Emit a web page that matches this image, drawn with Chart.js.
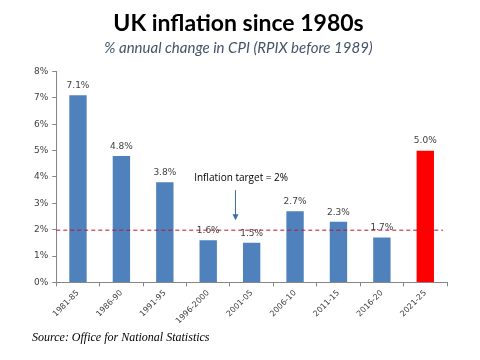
<!DOCTYPE html>
<html><head><meta charset="utf-8">
<script src="https://cdn.jsdelivr.net/npm/chart.js@4/dist/chart.umd.min.js"></script>
<style>html,body{margin:0;padding:0;background:#fff}#wrap{width:480px;height:360px;position:relative}</style>
</head><body><div id="wrap"><canvas id="c" width="480" height="360"></canvas></div>
<script>
const categories = ['1981-85','1986-90','1991-95','1996-2000','2001-05','2006-10','2011-15','2016-20','2021-25'];
const inflation = [7.1, 4.8, 3.8, 1.6, 1.5, 2.7, 2.3, 1.7, 5.0];
const valueLabels = ['7.1%','4.8%','3.8%','1.6%','1.5%','2.7%','2.3%','1.7%','5.0%'];
const targetRate = 2;
const yTicks = [0,1,2,3,4,5,6,7,8];
const titleText = 'UK inflation since 1980s';
const subtitleText = '% annual change in CPI (RPIX before 1989)';
const targetLabel = 'Inflation target = 2%';
const sourceText = 'Source: Office for National Statistics';

const barColors = categories.map((c,i)=> i===categories.length-1 ? '#FF0000' : '#4F81BD');

const overlay = {
  id:'overlay',
  afterDatasetsDraw(chart){
    const ctx = chart.ctx, ca = chart.chartArea;
    const x = chart.scales.x, y = chart.scales.y;
    const meta = chart.getDatasetMeta(0);
    ctx.save();
    ctx.font = '9px "DejaVu Sans"';
    ctx.fillStyle = '#404040';
    ctx.textAlign = 'center';
    ctx.textBaseline = 'bottom';
    meta.data.forEach((bar,i)=>{
      ctx.fillText(valueLabels[i], bar.x, bar.y - 5);
    });
    const ty = y.getPixelForValue(targetRate);
    ctx.strokeStyle = '#C0122A';
    ctx.lineWidth = 1;
    ctx.setLineDash([4,3]);
    ctx.beginPath();
    ctx.moveTo(ca.left, ty + 0.5);
    ctx.lineTo(ca.right - 4, ty + 0.5);
    ctx.stroke();
    ctx.setLineDash([]);
    const ax = x.getPixelForValue(3) + (x.getPixelForValue(4) - x.getPixelForValue(3)) * 0.62;
    ctx.fillStyle = '#000';
    ctx.font = '10px "Open Sans"';
    ctx.textAlign = 'center';
    ctx.textBaseline = 'middle';
    ctx.fillText(targetLabel, ax + 6, y.getPixelForValue(3.95));
    const a0 = y.getPixelForValue(3.5), a1 = y.getPixelForValue(2.4);
    ctx.strokeStyle = '#3A6EA5';
    ctx.fillStyle = '#3A6EA5';
    ctx.beginPath();
    ctx.moveTo(Math.round(ax) + 0.5, a0);
    ctx.lineTo(Math.round(ax) + 0.5, a1);
    ctx.stroke();
    ctx.beginPath();
    ctx.moveTo(Math.round(ax) - 2.5, a1 - 5);
    ctx.lineTo(Math.round(ax) + 3.5, a1 - 5);
    ctx.lineTo(Math.round(ax) + 0.5, a1 + 1);
    ctx.closePath();
    ctx.fill();
    ctx.font = 'italic 12px "Liberation Serif"';
    ctx.fillStyle = '#000';
    ctx.textAlign = 'left';
    ctx.textBaseline = 'middle';
    ctx.fillText(sourceText, 32, 338);
    ctx.restore();
  }
};

new Chart(document.getElementById('c'), {
  type:'bar',
  data:{ labels:categories, datasets:[{ data:inflation, backgroundColor:barColors, borderWidth:0, categoryPercentage:1, barPercentage:0.4 }] },
  options:{
    responsive:false, animation:false,
    layout:{ padding:{ left:30, right:33, top:0, bottom:32 } },
    plugins:{
      legend:{display:false}, tooltip:{enabled:false},
      title:{ display:true, text:titleText, color:'#000', font:{family:'Lato', size:23, weight:'bold'}, padding:{top:10, bottom:2} },
      subtitle:{ display:true, text:subtitleText, color:'#44546A', font:{family:'Lato', size:15, style:'italic'}, padding:{top:0, bottom:14} }
    },
    scales:{
      y:{ min:0, max:8, afterBuildTicks(s){ s.ticks = yTicks.map(v=>({value:v})); },
        ticks:{ color:'#404040', font:{family:'DejaVu Sans', size:9}, padding:4, callback:v=>v+'%' },
        grid:{ drawOnChartArea:false, drawTicks:true, tickLength:4, color:'#868686' },
        border:{ color:'#868686' } },
      x:{ ticks:{ color:'#404040', font:{family:'DejaVu Sans', size:8}, minRotation:45, maxRotation:45, padding:2 },
        grid:{ drawOnChartArea:false, drawTicks:true, tickLength:4, color:'#868686', offset:true },
        border:{ color:'#868686' } }
    }
  },
  plugins:[overlay]
});
</script></body></html>
